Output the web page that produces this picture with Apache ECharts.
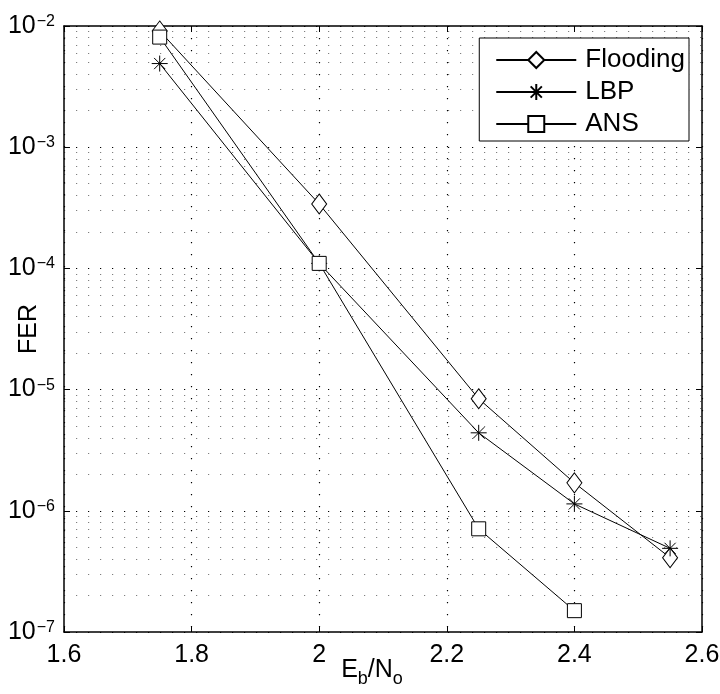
<!DOCTYPE html>
<html>
<head>
<meta charset="utf-8">
<script src="https://cdn.jsdelivr.net/npm/echarts@6/dist/echarts.min.js"></script>
<style>
  html, body { margin: 0; padding: 0; background: #fff; }
  #chart { width: 720px; height: 694px; }
</style>
</head>
<body>
<div id="chart"></div>
<script>
// Eb/No points and FER values
var ebno = [1.75, 2, 2.25, 2.4, 2.55];
var flooding = [9.1e-3, 3.4e-4, 8.4e-6, 1.7e-6, 4.1e-7];
var lbp = [4.9e-3, 1.1e-4, 4.4e-6, 1.14e-6, 4.9e-7];
var ansEbno = [1.75, 2, 2.25, 2.4];
var ans = [8.1e-3, 1.1e-4, 7.1e-7, 1.5e-7];

var seriesNames = ['Flooding', 'LBP', 'ANS'];
var xRange = [1.6, 2.6];
var decades = [-7, -6, -5, -4, -3];
var minorMantissas = [2, 3, 4, 5, 6, 7, 8, 9];

var font = 'Liberation Sans, Arial, Helvetica, sans-serif';
var dots = { color: '#000', width: 1.2, type: [1.2, 10.8] };
var starPath = 'path://M0,-10L0,10M-10,0L10,0M-7,-7L7,7M-7,7L7,-7';

function pairs(xs, ys) {
  return xs.map(function (x, i) { return [x, ys[i]]; });
}

// dotted minor grid lines at 2..9 x 10^k
var minorLines = [];
decades.forEach(function (e) {
  minorMantissas.forEach(function (m) {
    var v = m * Math.pow(10, e);
    minorLines.push({ coords: [[xRange[0], v], [xRange[1], v]] });
  });
});

var chart = echarts.init(document.getElementById('chart'));

function lineSeries(name, data, symbol, size) {
  return {
    name: name,
    type: 'line',
    data: data,
    symbol: symbol,
    symbolSize: size,
    showAllSymbol: true,
    lineStyle: { color: '#000', width: 1 },
    itemStyle: { color: '#fff', borderColor: '#000', borderWidth: 1 },
    animation: false,
    z: 3
  };
}

chart.setOption({
  backgroundColor: '#fff',
  textStyle: { fontFamily: font },
  grid: { left: 64, right: 18, top: 26, bottom: 62, containLabel: false, outerBoundsMode: 'none' },
  legend: {
    data: seriesNames,
    orient: 'vertical',
    right: 31,
    top: 38,
    itemWidth: 80,
    itemHeight: 20,
    itemGap: 6,
    padding: [9, 4, 4, 16],
    backgroundColor: '#fff',
    borderColor: '#000',
    borderWidth: 1,
    textStyle: { fontSize: 26, color: '#000', fontFamily: font, padding: [0, 0, 0, 4] }
  },
  xAxis: [{
    type: 'value',
    min: xRange[0],
    max: xRange[1],
    interval: 0.2,
    name: '{n|E}{sub|b}{n|/N}{sub|o}',
    nameLocation: 'middle',
    nameGap: 26,
    nameMoveOverlap: false,
    nameTextStyle: {
      padding: [0, 22, 0, 0],
      rich: {
        n: { fontSize: 25, fontFamily: font, color: '#000', verticalAlign: 'top', lineHeight: 26 },
        sub: { fontSize: 18, fontFamily: font, color: '#000', verticalAlign: 'top', lineHeight: 18, padding: [12, 0, 0, 0] }
      }
    },
    axisLine: { lineStyle: { color: '#000', width: 1.5 } },
    axisTick: { inside: true, length: 6, lineStyle: { color: '#000' } },
    axisLabel: { fontSize: 25, color: '#000', margin: 11, fontFamily: font },
    splitLine: { show: true, lineStyle: dots }
  }, {
    type: 'value',
    position: 'top',
    min: xRange[0],
    max: xRange[1],
    interval: 0.2,
    axisLine: { show: true, lineStyle: { color: '#000', width: 1.5 } },
    axisTick: { show: true, inside: true, length: 6, lineStyle: { color: '#000' } },
    axisLabel: { show: false },
    splitLine: { show: false }
  }],
  yAxis: [{
    type: 'log',
    logBase: 10,
    min: 1e-7,
    max: 1e-2,
    splitNumber: 5,
    name: 'FER',
    nameLocation: 'middle',
    nameGap: 22,
    nameMoveOverlap: false,
    nameTextStyle: { fontSize: 25, color: '#000', fontFamily: font },
    axisLine: { show: true, lineStyle: { color: '#000', width: 1.5 } },
    axisTick: { show: true, inside: true, length: 6, lineStyle: { color: '#000' } },
    axisLabel: {
      margin: 9,
      formatter: function (v) {
        var e = Math.round(Math.log10(v));
        return '{b|10}{s|\u2212' + Math.abs(e) + '}';
      },
      rich: {
        b: { fontSize: 25, fontFamily: font, color: '#000', verticalAlign: 'bottom', lineHeight: 25, padding: [8, 0, 0, 0] },
        s: { fontSize: 16, fontFamily: font, color: '#000', verticalAlign: 'top', lineHeight: 16, padding: [0, 0, 0, 1] }
      }
    },
    splitLine: { show: true, lineStyle: dots }
  }, {
    type: 'log',
    logBase: 10,
    min: 1e-7,
    max: 1e-2,
    splitNumber: 5,
    position: 'right',
    axisLine: { show: true, lineStyle: { color: '#000', width: 1.5 } },
    axisTick: { show: true, inside: true, length: 6, lineStyle: { color: '#000' } },
    axisLabel: { show: false },
    splitLine: { show: false }
  }],
  series: [
    {
      name: 'minor grid',
      type: 'lines',
      coordinateSystem: 'cartesian2d',
      silent: true,
      animation: false,
      lineStyle: dots,
      data: minorLines,
      z: 1
    },
    lineSeries('Flooding', pairs(ebno, flooding), 'diamond', [15, 20]),
    lineSeries('LBP', pairs(ebno, lbp), starPath, 16),
    lineSeries('ANS', pairs(ansEbno, ans), 'rect', 14)
  ]
});
</script>
</body>
</html>
